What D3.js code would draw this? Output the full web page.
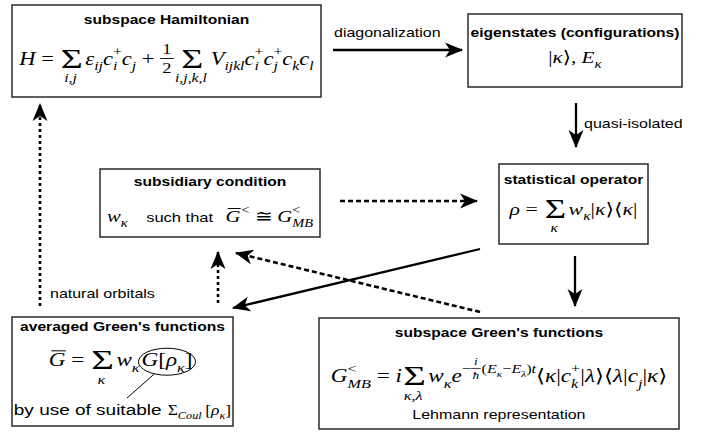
<!DOCTYPE html>
<html>
<head>
<meta charset="utf-8">
<script src="https://cdn.jsdelivr.net/npm/d3@7"></script>
<style>
body { margin: 0; background: #fff; }
</style>
</head>
<body>
<div id="chart"></div>
<script>
const W = 706, H = 435;

// texts
const boxTitles = ["subspace Hamiltonian", "eigenstates (configurations)", "statistical operator",
                   "subsidiary condition", "averaged Green's functions", "subspace Green's functions"];
const arrowLabels = ["diagonalization", "quasi-isolated", "natural orbitals"];
const boxNotes = ["by use of suitable", "Lehmann representation", "such that"];

// little math token helpers
const it = s => ({k: 't', s, it: true});
const rm = s => ({k: 't', s});
const sf = (s, sc) => ({k: 't', s, sans: true, sc: sc || 0.8});
const sub = (...t) => ({k: 'sub', t});
const sup = (...t) => ({k: 'sup', t});
const ss = (b, p) => ({k: 'ss', b, p});
const sum = (...lim) => ({k: 'sum', lim});
const frac = (n, d) => ({k: 'frac', n, d});
const bar = (...t) => ({k: 'bar', t});
const sp = w => ({k: 'sp', w});
const ring = (...t) => ({k: 'ring', t});

const hamiltonian = [it('H'), rm(' = '), sum(it('i,j')), it('ε'), sub(it('ij')), it('c'), ss([it('i')], [rm('+')]),
  it('c'), sub(it('j')), rm(' + '), frac([rm('1')], [rm('2')]), sum(it('i,j,k,l')), it('V'), sub(it('ijkl')),
  it('c'), ss([it('i')], [rm('+')]), it('c'), ss([it('j')], [rm('+')]), it('c'), sub(it('k')), it('c'), sub(it('l'))];
const eigen = [rm('|'), it('κ'), rm('⟩, '), it('E'), sub(it('κ'))];
const statOp = [it('ρ'), rm(' = '), sum(it('κ')), it('w'), sub(it('κ')), rm('|'), it('κ'), rm('⟩⟨'), it('κ'), rm('|')];
const subsid = [it('w'), sub(it('κ')), sp(0.9), sf(boxNotes[2]), sp(0.6), bar(it('G')), sp(0.05), sup(rm('<')),
  rm(' ≅ '), it('G'), ss([it('MB')], [rm('<')])];
const averaged = [bar(it('G')), rm(' = '), sum(it('κ')), it('w'), sub(it('κ')), sp(0.08),
  ring(it('G'), rm('['), it('ρ'), sub(it('κ')), rm(']'))];
const suitable = [sf(boxNotes[0], 1.085), sp(0.35), rm('Σ'), sub(it('Coul')), sp(0.2), rm('['), it('ρ'), sub(it('κ')), rm(']')];
const lehmann = [it('G'), ss([it('MB')], [rm('<')]), rm(' = '), it('i'), sum(it('κ,λ')), it('w'), sub(it('κ')), it('e'),
  sup(rm('−'), frac([it('i')], [it('ħ')]), rm('('), it('E'), sub(it('κ')), rm('−'), it('E'), sub(it('λ')), rm(')'), it('t')),
  rm('⟨'), it('κ'), rm('|'), it('c'), ss([it('k')], [rm('+')]), rm('|'), it('λ'), rm('⟩⟨'), it('λ'), rm('|'),
  it('c'), sub(it('j')), rm('|'), it('κ'), rm('⟩')];

// layout
const SX = 1.25; // the original is drawn horizontally stretched
const boxes = [
  {x: 12, y: 5, w: 309, h: 92, ty: 24, rows: [{f: hamiltonian, y: 65, size: 18}]},
  {x: 468, y: 14, w: 214, h: 73, ty: 37, rows: [{f: eigen, y: 63, size: 17}]},
  {x: 499, y: 164, w: 149, h: 80, ty: 184, rows: [{f: statOp, y: 215, size: 17.5}]},
  {x: 100, y: 169, w: 220, h: 68, ty: 186, rows: [{f: subsid, y: 222, size: 16.5}]},
  {x: 12, y: 317, w: 221, h: 109, ty: 331, rows: [{f: averaged, y: 366, size: 18.5}, {f: suitable, y: 415, size: 14}]},
  {x: 319, y: 318, w: 360, h: 111, ty: 337, rows: [{f: lehmann, y: 382, size: 18.5}, {f: [sf(boxNotes[1])], y: 419, size: 16}]}
];

const arrows = [
  {x1: 333, y1: 50, x2: 462, y2: 50, style: 'solid'},
  {x1: 576, y1: 103, x2: 576, y2: 147, style: 'solid'},
  {x1: 575, y1: 256, x2: 575, y2: 306, style: 'solid'},
  {x1: 480, y1: 249, x2: 233, y2: 308, style: 'solid'},
  {x1: 340, y1: 201, x2: 477, y2: 201, style: 'dash'},
  {x1: 480, y1: 312, x2: 236, y2: 253, style: 'dash'},
  {x1: 218, y1: 303, x2: 218, y2: 252, style: 'dot'},
  {x1: 40, y1: 306, x2: 40, y2: 104, style: 'dot'}
];
const labels = [
  {x: 334, y: 37},
  {x: 584, y: 128},
  {x: 50, y: 298}
];

const SERIF = "'Liberation Serif', 'DejaVu Serif', serif";
const SANS = "'Liberation Sans', Arial, Helvetica, sans-serif";

const svg = d3.select('#chart').append('svg')
  .attr('width', W).attr('height', H)
  .style('display', 'block');

svg.append('defs').append('marker')
  .attr('id', 'head')
  .attr('markerUnits', 'userSpaceOnUse')
  .attr('viewBox', '0 -8 18 16')
  .attr('markerWidth', 18).attr('markerHeight', 16)
  .attr('refX', 17).attr('refY', 0)
  .attr('orient', 'auto')
  .append('path')
  .attr('d', 'M0,-7.5L18,0L0,7.5L5,0Z')
  .attr('fill', '#000');

let ringInfo = null;

function textEl(g, s, x, y, size, o) {
  return g.append('text')
    .attr('x', x).attr('y', y)
    .attr('font-size', size)
    .attr('font-family', o.sans ? SANS : SERIF)
    .attr('font-style', o.it ? 'italic' : 'normal')
    .attr('xml:space', 'preserve')
    .text(s);
}

function render(g, toks, x, y, size) {
  toks.forEach(tk => { x = draw(g, tk, x, y, size); });
  return x;
}

function draw(g, tk, x, y, size) {
  if (tk.k === 't') {
    const t = textEl(g, tk.s, x, y, tk.sans ? size * tk.sc : size, tk);
    return x + t.node().getComputedTextLength();
  }
  if (tk.k === 'sp') return x + tk.w * size;
  if (tk.k === 'sub') return render(g, tk.t, x, y + size * 0.3, size * 0.7);
  if (tk.k === 'sup') return render(g, tk.t, x, y - size * 0.48, size * 0.7);
  if (tk.k === 'ss') {
    const a = render(g, tk.b, x, y + size * 0.3, size * 0.7);
    const b = render(g, tk.p, x, y - size * 0.48, size * 0.7);
    return Math.max(a, b);
  }
  if (tk.k === 'sum') {
    const s = textEl(g, 'Σ', 0, y + size * 0.18, size * 1.5, {});
    const ws = s.node().getComputedTextLength() * 1.12;
    const lg = g.append('g');
    const wl = render(lg, tk.lim, 0, y + size * 0.95, size * 0.7);
    const w = Math.max(ws, wl);
    s.attr('transform', `translate(${x + (w - ws) / 2 + 1},0) scale(1.12,1)`);
    lg.attr('transform', `translate(${x + (w - wl) / 2},0)`);
    return x + w + 3;
  }
  if (tk.k === 'frac') {
    const ng = g.append('g'), dg = g.append('g');
    const fs = size * 0.82;
    const wn = render(ng, tk.n, 0, y - size * 0.6, fs);
    const wd = render(dg, tk.d, 0, y + size * 0.45, fs);
    const w = Math.max(wn, wd) + size * 0.2;
    ng.attr('transform', `translate(${x + (w - wn) / 2},0)`);
    dg.attr('transform', `translate(${x + (w - wd) / 2},0)`);
    g.append('line').attr('x1', x).attr('x2', x + w)
      .attr('y1', y - size * 0.36).attr('y2', y - size * 0.36)
      .attr('stroke', '#000').attr('stroke-width', Math.max(0.6, size * 0.05));
    return x + w + size * 0.05;
  }
  if (tk.k === 'bar') {
    const x2 = render(g, tk.t, x, y, size);
    g.append('line').attr('x1', x + size * 0.12).attr('x2', x2 + size * 0.02)
      .attr('y1', y - size * 0.82).attr('y2', y - size * 0.82)
      .attr('stroke', '#000').attr('stroke-width', 1);
    return x2;
  }
  if (tk.k === 'ring') {
    const rg = g.append('g');
    const x2 = render(rg, tk.t, x, y, size);
    ringInfo = {g: rg};
    return x2 + 3;
  }
  return x;
}

// boxes
const boxG = svg.selectAll('g.box')
  .data(boxes)
  .enter()
  .append('g')
  .attr('class', 'box');

boxG.append('rect')
  .attr('x', d => d.x).attr('y', d => d.y)
  .attr('width', d => d.w).attr('height', d => d.h)
  .attr('fill', '#fff')
  .attr('stroke', '#2a2a2a')
  .attr('stroke-width', 1.5);

boxG.append('text')
  .attr('transform', d => `translate(${d.x + d.w / 2},${d.ty}) scale(${SX},1)`)
  .attr('text-anchor', 'middle')
  .attr('font-family', SANS)
  .attr('font-weight', 'bold')
  .attr('font-size', 12.5)
  .text((d, i) => boxTitles[i]);

boxG.each(function (d) {
  const bg = d3.select(this);
  d.rows.forEach(r => {
    const fg = bg.append('g');
    const w = render(fg, r.f, 0, r.y, r.size);
    const dx = d.x + d.w / 2 - w * SX / 2;
    fg.attr('transform', `translate(${dx},0) scale(${SX},1)`);
    if (r.f === averaged && ringInfo) {
      const bb = ringInfo.g.node().getBBox();
      const cx = (bb.x + bb.width / 2) * SX + dx, cy = bb.y + bb.height / 2;
      const rx = bb.width * SX / 2 + 3, ry = bb.height / 2 + 1;
      bg.append('ellipse').attr('cx', cx).attr('cy', cy).attr('rx', rx).attr('ry', ry)
        .attr('fill', 'none').attr('stroke', '#000').attr('stroke-width', 1);
      bg.append('line')
        .attr('x1', cx - rx * 0.45).attr('y1', cy + ry * 0.92)
        .attr('x2', 127).attr('y2', 398)
        .attr('stroke', '#000').attr('stroke-width', 1);
    }
  });
});

// arrows
const dashes = {solid: null, dash: '5,3', dot: '3,3'};
svg.selectAll('line.arrow')
  .data(arrows)
  .enter()
  .append('line')
  .attr('class', 'arrow')
  .attr('x1', d => d.x1).attr('y1', d => d.y1)
  .attr('x2', d => d.x2).attr('y2', d => d.y2)
  .attr('stroke', '#000')
  .attr('stroke-width', d => d.style === 'solid' ? 2.3 : 2.6)
  .attr('stroke-dasharray', d => dashes[d.style])
  .attr('marker-end', 'url(#head)');

svg.selectAll('text.label')
  .data(labels)
  .enter()
  .append('text')
  .attr('class', 'label')
  .attr('transform', d => `translate(${d.x},${d.y}) scale(${SX},1)`)
  .attr('font-family', SANS)
  .attr('font-size', 12.8)
  .text((d, i) => arrowLabels[i]);
</script>
</body>
</html>
